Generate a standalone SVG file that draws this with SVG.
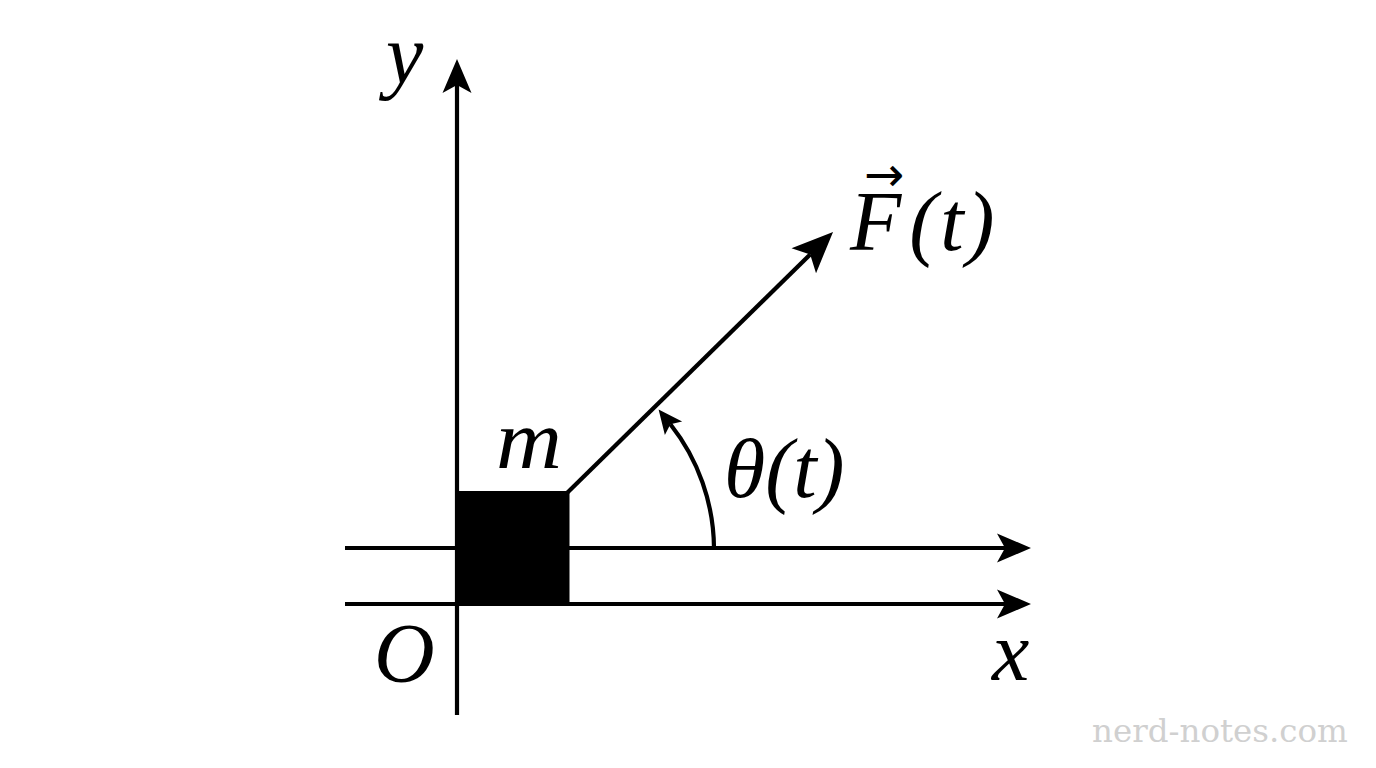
<svg xmlns="http://www.w3.org/2000/svg" width="1376" height="768" viewBox="0 0 1376 768">
<style>
.ax{stroke:#000;stroke-width:4.2;fill:none}
.lbl{font-family:"Liberation Serif",serif;font-style:italic;font-size:84px;fill:#000}
.wm{font-family:"DejaVu Serif",serif;font-size:32.5px;fill:#d0d0d0}
</style>
<defs>
<marker id="big" markerUnits="userSpaceOnUse" markerWidth="40" markerHeight="32" viewBox="0 -16 36 32" refX="8" refY="0" orient="auto">
<path d="M34,0 L0,-14.5 L8,0 L0,14.5 Z" fill="#000"/>
</marker>
<marker id="force-head" markerUnits="userSpaceOnUse" markerWidth="44" markerHeight="38" viewBox="0 -19 43 38" refX="9" refY="0" orient="auto">
<path d="M41,0 L0,-17.5 L9,0 L0,17.5 Z" fill="#000"/>
</marker>
<marker id="small" markerUnits="userSpaceOnUse" markerWidth="30" markerHeight="26" viewBox="0 -13 26 26" refX="5" refY="0" orient="auto">
<path d="M24,0 L0,-11 L5,0 L0,11 Z" fill="#000"/>
</marker>
</defs>
<rect width="1376" height="768" fill="#fff"/>
<g id="connectors">
<path id="y-axis" class="ax" d="M457,715 L457,85" marker-end="url(#big)"/>
<path id="x-rail-top" class="ax" d="M345,548 L1005,548" marker-end="url(#big)"/>
<path id="x-rail-bottom" class="ax" d="M345,604 L1005,604" marker-end="url(#big)"/>
<path id="force" class="ax" d="M567,493 L810.2,254.4" marker-end="url(#force-head)"/>
<path id="angle-arc" class="ax" d="M714,548 A202,202 0 0 0 670.4,424.3" marker-end="url(#small)"/>
</g>
<g id="block">
<rect x="455.5" y="491" width="114" height="113" fill="#000"/>
<text class="lbl" x="496" y="468" textLength="66" lengthAdjust="spacingAndGlyphs">m</text>
</g>
<g id="origin"><text class="lbl" x="374" y="682">O</text></g>
<g id="y-label"><text class="lbl" x="386" y="83">y</text></g>
<g id="x-label"><text class="lbl" x="992" y="680">x</text></g>
<g id="theta-label"><text class="lbl" x="724" y="497">θ(t)</text></g>
<g id="force-label">
<text class="lbl" x="850" y="250">F<tspan dx="8" letter-spacing="3">(t)</tspan><tspan x="884" y="191" text-anchor="middle" style="font-family:'DejaVu Sans',sans-serif;font-style:normal;font-size:48px">→</tspan></text>
</g>
<g id="watermark"><text class="wm" x="1092" y="742">nerd-notes.com</text></g>
</svg>
